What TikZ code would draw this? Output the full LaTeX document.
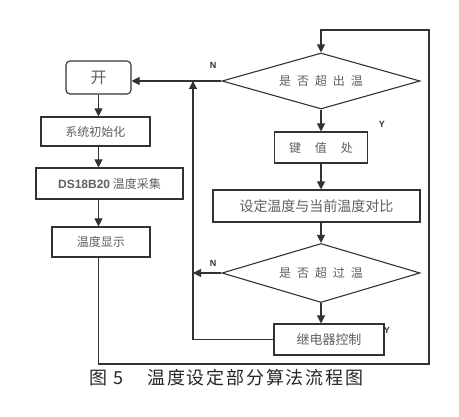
\documentclass[tikz,border=0pt]{standalone}
\usepackage{fontspec}
\setmainfont{Liberation Sans}
\setsansfont{Liberation Sans}
\newfontfamily\cjk{Noto Sans CJK SC}
\newfontfamily\cjkcap[LetterSpace=10]{Noto Sans CJK SC}
\usetikzlibrary{shapes, arrows.meta, positioning, calc}
\definecolor{flowgray}{RGB}{50, 50, 50}
\definecolor{textgray}{RGB}{95, 95, 95}

\begin{document}
\begin{tikzpicture}[x=1pt, y=-1pt,
  box/.style={draw=flowgray, line width=1.1pt, inner sep=0pt, text=textgray, font=\cjk\fontsize{12}{14}\selectfont},
  decision/.style={box, diamond, aspect=3.5, minimum width=198pt, minimum height=56pt},
  flow/.style={draw=flowgray, line width=1.1pt, -{Triangle[length=8pt, width=8pt]}},
  wire/.style={draw=flowgray, line width=1.1pt},
  tag/.style={font=\sffamily\bfseries\fontsize{9}{10}\selectfont, text=flowgray}]
  \useasboundingbox (0,0) rectangle (459,417);
  \node[box, rounded corners=4pt, minimum width=65pt, minimum height=33pt, font=\cjk\fontsize{16}{18}\selectfont] (start) at (98.5,77.5) {开};
  \node[box, minimum width=109pt, minimum height=29pt] (init) at (95.5,131.5) {系统初始化};
  \node[box, minimum width=147pt, minimum height=31pt] (sample) at (109.5,183.5) {{\sffamily\bfseries DS18B20} 温度采集};
  \node[box, minimum width=98pt, minimum height=30pt] (show) at (101,242) {温度显示};
  \node[decision] (over) at (321,81) {是\hspace{6pt}否\hspace{6pt}超\hspace{6pt}出\hspace{6pt}温};
  \node[box, minimum width=93pt, minimum height=31pt] (key) at (321,147.5) {键\hspace{14pt}值\hspace{14pt}处};
  \node[box, minimum width=207pt, minimum height=32pt, font=\cjk\fontsize{14}{16}\selectfont] (cmp) at (316.5,206) {设定温度与当前温度对比};
  \node[decision, minimum height=59pt] (check) at (321,273) {是\hspace{6pt}否\hspace{6pt}超\hspace{6pt}过\hspace{6pt}温};
  \node[box, minimum width=110pt, minimum height=31pt, font=\cjk\fontsize{13}{15}\selectfont] (relay) at (329,339.5) {继电器控制};
  \coordinate (back) at (429,364);
  \coordinate (top) at (over.north |- 0,30);
  \coordinate (merge) at (over.west -| 193,0);
  \draw[flow] (start.south) -- (start.south |- init.north);
  \draw[flow] (init.south -| start.south) -- (start.south |- sample.north);
  \draw[flow] (sample.south -| start.south) -- (start.south |- show.north);
  \draw[flow] (show.south -| start.south) |- (back) |- (top) -- (over.north);
  \draw[flow] (over.west) -- (over.west -| start.east);
  \draw[flow] (over.south) -- (key.north);
  \draw[flow] (key.south) -- (key.south |- cmp.north);
  \draw[flow] (cmp.south -| key.south) -- (check.north);
  \draw[flow] (check.south) -- (check.south |- relay.north);
  \draw[flow] (check.west) -- (check.west -| merge);
  \draw[flow] (relay.west) -| (merge);
  \node[tag] (nover) at (213,65) {N};
  \node[tag] (ncheck) at (213,263) {N};
  \node[tag] (yover) at (382,124) {Y};
  \node[tag] (ycheck) at (387,330) {Y};
  \node[anchor=west, text=black!85, font=\cjkcap\fontsize{18}{20}\selectfont] (caption) at (86,378) {图 5\hspace{24pt}温度设定部分算法流程图};
\end{tikzpicture}
\end{document}
